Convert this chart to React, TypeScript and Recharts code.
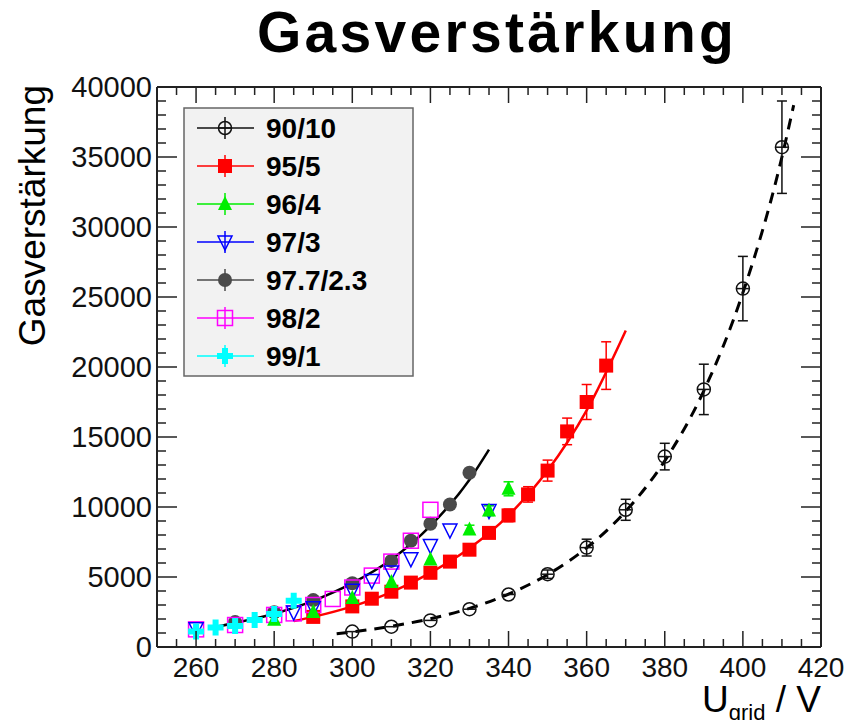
import React from 'react';
import { ComposedChart, Scatter, Line, XAxis, YAxis, ErrorBar } from 'recharts';

const FONT = '"Liberation Sans", Arial, Helvetica, sans-serif';

// Messpunkte je Gasmischung (U_grid in V, Gasverstärkung, Fehler)
const v9010 = [300, 310, 320, 330, 340, 350, 360, 370, 380, 390, 400, 410];
const g9010 = [1100, 1450, 1900, 2700, 3750, 5200, 7100, 9800, 13600, 18400, 25600, 35700];
const e9010 = [0, 0, 0, 0, 0, 300, 600, 750, 950, 1800, 2300, 3300];

const v955 = [290, 300, 305, 310, 315, 320, 325, 330, 335, 340, 345, 350, 355, 360, 365];
const g955 = [2150, 2900, 3450, 3950, 4600, 5300, 6100, 6950, 8150, 9400, 10900, 12600, 15400, 17500, 20100];
const e955 = [0, 0, 0, 0, 0, 0, 0, 0, 300, 450, 550, 750, 950, 1250, 1700];

const v964 = [280, 290, 300, 310, 320, 330, 335, 340];
const g964 = [1950, 2500, 3500, 4650, 6250, 8400, 9750, 11300];
const e964 = [0, 0, 0, 0, 0, 300, 350, 500];

const v973 = [260, 285, 290, 300, 305, 310, 315, 320, 325, 335];
const g973 = [1300, 2500, 2800, 4050, 4750, 5350, 6300, 7250, 8350, 9750];
const e973 = [0, 0, 0, 0, 0, 0, 0, 0, 0, 350];

const v97723 = [270, 280, 290, 300, 310, 315, 320, 325, 330];
const g97723 = [1780, 2480, 3350, 4550, 6150, 7590, 8800, 10180, 12450];

const v982 = [260, 270, 280, 285, 290, 295, 300, 305, 310, 315, 320];
const g982 = [1260, 1570, 2290, 2400, 3000, 3430, 4250, 5100, 6100, 7590, 9800];

const v991 = [260, 265, 270, 275, 280, 285];
const g991 = [1100, 1400, 1500, 1930, 2350, 3300];

// Fitkurven
const fitV9010 = [296, 300, 310, 320, 330, 340, 350, 360, 370, 380, 390, 400, 410, 413];
const fitG9010 = [950, 1080, 1480, 2020, 2760, 3780, 5170, 7080, 9700, 13300, 18300, 25300, 35000, 38700];

const fitV955 = [285, 290, 300, 310, 320, 330, 340, 350, 360, 370];
const fitG955 = [1850, 2150, 2900, 3920, 5300, 7050, 9400, 12600, 16900, 22600];

const fitV97723 = [265, 270, 280, 290, 300, 310, 320, 330, 335];
const fitG97723 = [1450, 1720, 2380, 3300, 4560, 6250, 8650, 11950, 14100];

// Achsen
const xMajor = [260, 280, 300, 320, 340, 360, 380, 400, 420];
const yMajor = [0, 5000, 10000, 15000, 20000, 25000, 30000, 35000, 40000];

const xTicks: number[] = [];
for (let t = 250; t <= 420; t += 5) xTicks.push(t);
const yTicks: number[] = [];
for (let t = 0; t <= 40000; t += 1000) yTicks.push(t);

const pts = (v: number[], g: number[], e?: number[]) =>
  v.map((x, i) => ({ v: x, g: g[i], e: e ? e[i] : 0 }));

type Kind = 'openCircle' | 'square' | 'triUp' | 'openTriDown' | 'circle' | 'openSquare' | 'cross';

const Marker = ({ kind, cx, cy, color }: { kind: Kind; cx: number; cy: number; color: string }) => {
  switch (kind) {
    case 'openCircle':
      return (
        <g>
          <circle cx={cx} cy={cy} r={6.5} fill="none" stroke={color} strokeWidth={1.5} />
          <line x1={cx - 6} x2={cx + 6} y1={cy} y2={cy} stroke={color} strokeWidth={1.5} />
        </g>
      );
    case 'square':
      return <rect x={cx - 7} y={cy - 7} width={14} height={14} fill={color} />;
    case 'triUp':
      return <polygon points={`${cx},${cy - 8} ${cx - 7},${cy + 6} ${cx + 7},${cy + 6}`} fill={color} />;
    case 'openTriDown':
      return (
        <polygon
          points={`${cx - 7},${cy - 6} ${cx + 7},${cy - 6} ${cx},${cy + 8}`}
          fill="none"
          stroke={color}
          strokeWidth={1.5}
        />
      );
    case 'circle':
      return <circle cx={cx} cy={cy} r={7} fill={color} />;
    case 'openSquare':
      return <rect x={cx - 7.5} y={cy - 7.5} width={15} height={15} fill="none" stroke={color} strokeWidth={1.5} />;
    case 'cross':
      return <path d={`M${cx - 3},${cy - 8}h6v5h5v6h-5v5h-6v-5h-5v-6h5z`} fill={color} />;
  }
  return null;
};

const series = [
  { name: '90/10', kind: 'openCircle' as Kind, color: '#111111', data: pts(v9010, g9010, e9010) },
  { name: '95/5', kind: 'square' as Kind, color: '#ff0000', data: pts(v955, g955, e955) },
  { name: '96/4', kind: 'triUp' as Kind, color: '#00ee00', data: pts(v964, g964, e964) },
  { name: '97/3', kind: 'openTriDown' as Kind, color: '#0000ff', data: pts(v973, g973, e973) },
  { name: '97.7/2.3', kind: 'circle' as Kind, color: '#4a4a4a', data: pts(v97723, g97723) },
  { name: '98/2', kind: 'openSquare' as Kind, color: '#ff00ff', data: pts(v982, g982) },
  { name: '99/1', kind: 'cross' as Kind, color: '#00ffff', data: pts(v991, g991) },
];

// Reihenfolge beim Zeichnen
const drawOrder = ['90/10', '95/5', '97.7/2.3', '98/2', '97/3', '96/4', '99/1'];

const FRAME = '#222';

const BottomTick = ({ x, y, payload }: any) => {
  const val = Math.round(payload.value);
  const major = xMajor.includes(val);
  return (
    <g>
      <line x1={x} x2={x} y1={y} y2={y - (major ? 16 : 8)} stroke={FRAME} strokeWidth={1.5} />
      {major && (
        <text x={x} y={y + 30} textAnchor="middle" fontSize={28} fontFamily={FONT} fill="#111">
          {val}
        </text>
      )}
    </g>
  );
};

const TopTick = ({ x, y, payload }: any) => {
  const major = xMajor.includes(Math.round(payload.value));
  return <line x1={x} x2={x} y1={y} y2={y + (major ? 16 : 8)} stroke={FRAME} strokeWidth={1.5} />;
};

const LeftTick = ({ x, y, payload }: any) => {
  const val = Math.round(payload.value);
  const major = yMajor.includes(val);
  return (
    <g>
      <line x1={x} x2={x + (major ? 20 : 9)} y1={y} y2={y} stroke={FRAME} strokeWidth={1.5} />
      {major && (
        <text x={x - 5} y={y + 10} textAnchor="end" fontSize={29} fontFamily={FONT} fill="#111">
          {val}
        </text>
      )}
    </g>
  );
};

const RightTick = ({ x, y, payload }: any) => {
  const major = yMajor.includes(Math.round(payload.value));
  return <line x1={x} x2={x - (major ? 20 : 9)} y1={y} y2={y} stroke={FRAME} strokeWidth={1.5} />;
};

export default function App() {
  const W = 841;
  const H = 712;
  const byName = (n: string) => series.find((s) => s.name === n)!;

  return (
    <div style={{ position: 'relative', width: W, height: H, background: '#fff' }}>
      <ComposedChart width={W} height={H} margin={{ top: 78, right: 27, bottom: 33, left: 89 }}>
        <XAxis
          dataKey="v"
          type="number"
          domain={[250, 420]}
          allowDataOverflow
          ticks={xTicks}
          interval={0}
          tickSize={0}
          tickMargin={0}
          tickLine={false}
          height={40}
          axisLine={{ stroke: FRAME, strokeWidth: 2 }}
          tick={<BottomTick />}
        />
        <XAxis
          xAxisId="top"
          orientation="top"
          dataKey="v"
          type="number"
          domain={[250, 420]}
          allowDataOverflow
          ticks={xTicks}
          interval={0}
          tickSize={0}
          tickMargin={0}
          tickLine={false}
          height={1}
          axisLine={{ stroke: FRAME, strokeWidth: 2 }}
          tick={<TopTick />}
        />
        <YAxis
          dataKey="g"
          type="number"
          domain={[0, 40000]}
          allowDataOverflow
          ticks={yTicks}
          interval={0}
          tickSize={0}
          tickMargin={0}
          tickLine={false}
          width={60}
          axisLine={{ stroke: FRAME, strokeWidth: 2 }}
          tick={<LeftTick />}
        />
        <YAxis
          yAxisId="right"
          orientation="right"
          dataKey="g"
          type="number"
          domain={[0, 40000]}
          allowDataOverflow
          ticks={yTicks}
          interval={0}
          tickSize={0}
          tickMargin={0}
          tickLine={false}
          width={1}
          axisLine={{ stroke: FRAME, strokeWidth: 2 }}
          tick={<RightTick />}
        />

        <Line
          data={pts(fitV9010, fitG9010)}
          dataKey="g"
          type="monotone"
          stroke="#000"
          strokeWidth={3}
          strokeDasharray="11 8"
          dot={false}
          activeDot={false}
          isAnimationActive={false}
        />
        <Line
          data={pts(fitV955, fitG955)}
          dataKey="g"
          type="monotone"
          stroke="#ff0000"
          strokeWidth={2.5}
          dot={false}
          activeDot={false}
          isAnimationActive={false}
        />
        <Line
          data={pts(fitV97723, fitG97723)}
          dataKey="g"
          type="monotone"
          stroke="#000"
          strokeWidth={2.5}
          dot={false}
          activeDot={false}
          isAnimationActive={false}
        />

        {drawOrder.map((n) => {
          const s = byName(n);
          return (
            <Scatter
              key={s.name}
              name={s.name}
              data={s.data}
              isAnimationActive={false}
              shape={(p: any) => <Marker kind={s.kind} cx={p.cx} cy={p.cy} color={s.color} />}
            >
              <ErrorBar dataKey="e" direction="y" width={5} stroke={s.color} strokeWidth={1.5} />
            </Scatter>
          );
        })}
      </ComposedChart>

      {/* Titel, Achsenbeschriftungen und Legende in Seitenkoordinaten */}
      <svg
        width={857}
        height={728}
        style={{ position: 'absolute', left: -8, top: -8, pointerEvents: 'none' }}
      >
        <text
          x={497}
          y={52}
          textAnchor="middle"
          fontSize={57}
          fontWeight="bold"
          letterSpacing={3.3}
          fontFamily={FONT}
          fill="#000"
        >
          Gasverstärkung
        </text>

        <text
          transform="translate(45,85) rotate(-90)"
          textAnchor="end"
          fontSize={37}
          fontFamily={FONT}
          fill="#000"
        >
          Gasverstärkung
        </text>

        <text x={821} y={712} textAnchor="end" fontFamily={FONT} fill="#000">
          <tspan fontSize={37}>U</tspan>
          <tspan fontSize={22} dy={8}>grid</tspan>
          <tspan fontSize={37} dy={-8}> / V</tspan>
        </text>

        <rect x={184} y={108} width={229} height={268} fill="#f2f2f2" stroke="#666" strokeWidth={1.5} />
        {series.map((s, i) => {
          const cy = 128 + i * 38;
          return (
            <g key={s.name}>
              <line x1={197} x2={254} y1={cy} y2={cy} stroke={s.color} strokeWidth={1.5} />
              <line x1={225} x2={225} y1={cy - 11} y2={cy + 11} stroke={s.color} strokeWidth={1.5} />
              <Marker kind={s.kind} cx={225} cy={cy} color={s.color} />
              <text x={266} y={cy + 10} fontSize={28} fontWeight="bold" fontFamily={FONT} fill="#000">
                {s.name}
              </text>
            </g>
          );
        })}
      </svg>
    </div>
  );
}
